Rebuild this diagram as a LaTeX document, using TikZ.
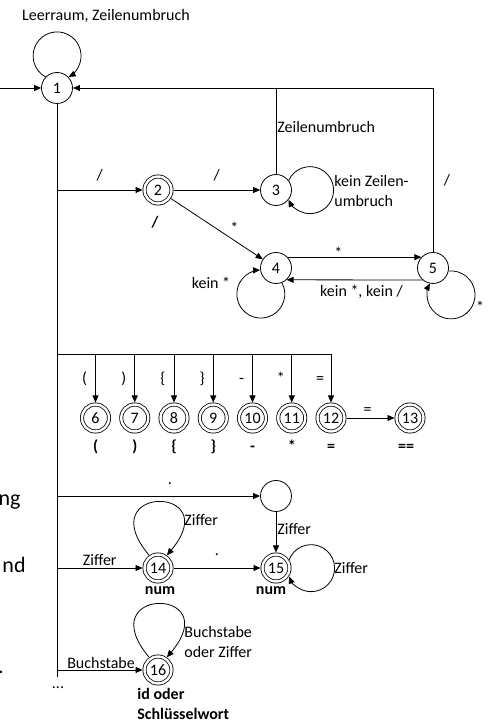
\documentclass[tikz,border=0pt]{standalone}
\usepackage{fontspec}
\setmainfont{Carlito}
\usetikzlibrary{arrows.meta}

\tikzset{
  state/.style={circle,draw,minimum size=31pt,inner sep=0pt},
  accept/.style={state,double,double distance=2.4pt,minimum size=27pt,outer sep=2pt},
  lbl/.style={inner sep=1pt},
  tok/.style={inner sep=1pt,font=\fontsize{16}{20}\selectfont\bfseries},
  frag/.style={inner sep=0pt,font=\fontsize{22}{26}\selectfont},
}

\begin{document}
\begin{tikzpicture}[x=1pt,y=1pt,line width=0.8pt,font=\fontsize{16}{20}\selectfont,
    >={Triangle[length=7pt,width=6pt]}]
  \useasboundingbox (0,0) rectangle (495,723);

  % states
  \node[state] (s1) at (57,635) {1};
  \node[accept] (s2) at (158,533) {2};
  \node[state] (s3) at (276,533) {3};
  \node[state] (s4) at (276,455) {4};
  \node[state] (s5) at (433,455) {5};
  \node[accept] (s13) at (410,305) {13};
  \node[state] (sp) at (276,227) {};
  \node[accept] (s14) at (158,155) {14};
  \node[accept] (s15) at (276,155) {15};
  \node[accept] (s16) at (158,53) {16};

  \coordinate (entry) at (0,635);
  \coordinate (bus) at (57,369);
  \coordinate (trunk) at (57,46);

  % start, white space
  \draw[->] (entry) -- (s1);
  \draw (s1) -- (trunk);
  \draw[->] (s1.136.5) arc[start angle=241.3,end angle=-61.3,radius=24];
  \node[lbl] (ws) at (106,707) {Leerraum, Zeilenumbruch};

  % comments
  \draw[->] (s1 |- s2) -- node[lbl,midway,yshift=15pt] {/} (s2);
  \node[tok] (t2) at (155,501) {/};
  \draw[->] (s2) -- node[lbl,midway,yshift=15pt] {/} (s3);
  \draw (s3) -- node[lbl,pos=0.55,anchor=west] {Zeilenumbruch} (s3 |- s1);
  \draw[->] (s3.37.7) arc[start angle=155.6,end angle=-155.6,radius=23.5];
  \node[lbl,anchor=west,align=left] (c3) at (333,531.5) {kein Zeilen-\\umbruch};
  \draw[->] (s2) -- node[lbl,pos=0.69,yshift=12.3pt] {*} (s4);
  \draw[->] (s4.43) -- node[lbl,pos=0.38,yshift=4.3pt] {*} (s5.137);
  \draw[->] (s5.-131.4) -- node[lbl,pos=0.45,yshift=-12pt] {kein *, kein /} (s4.-48.6);
  \draw[->] (s4.292.8) arc[start angle=28.2,end angle=-268.2,radius=24];
  \node[lbl] (c4) at (211,440) {kein *};
  \draw[->] (s5) |- node[lbl,pos=0.22,xshift=14pt] {/} (s1);
  \draw[->] (s5.-11.3) arc[start angle=95.8,end angle=-208.4,radius=24];
  \node[lbl] (c5) at (480,416.3) {*};

  % operators
  \foreach \n/\x/\tk in {6/95.5/{(},7/134.75/{)},8/174/{\{},9/213.25/{\}},10/252.5/{-},11/291.75/{*},12/331/{=}} {
    \node[accept] (s\n) at (\x,305) {\n};
    \draw[->] (s\n |- bus) -- (s\n);
    \node[lbl,anchor=base] (a\n) at (\x-11,339.5) {\tk};
    \node[tok,anchor=base] (b\n) at (\x,271.5) {\tk};
  }
  \draw (bus) -- (s12 |- bus);
  \draw[->] (s12) -- node[lbl,pos=0.44,yshift=6.5pt] {=} (s13);
  \node[tok,anchor=base] (b13) at (406,271.5) {==};

  % numbers
  \draw[->] (s1 |- sp) -- node[lbl,pos=0.556,yshift=12pt] {.} (sp);
  \draw[->] (sp) -- node[lbl,pos=0.42,anchor=west] {Ziffer} (s15);
  \draw[->] (s1 |- s14) -- node[lbl,midway,yshift=8pt] {Ziffer} (s14);
  \draw[->] (s14.125) .. controls +(130:92.7) and +(50:92.7) .. (s14.55);
  \node[lbl,anchor=west] (c14) at (183,203) {Ziffer};
  \draw[->] (s14) -- node[lbl,midway,yshift=13pt] {.} (s15);
  \draw[->] (s15.32.7) arc[start angle=159.1,end angle=-159.1,radius=23.5];
  \node[lbl,anchor=west] (c15) at (333,155) {Ziffer};
  \node[tok] (n14) at (160,132) {num};
  \node[tok] (n15) at (271,132) {num};

  % identifiers
  \draw[->] (s1 |- s16) -- node[lbl,pos=0.515,yshift=7pt] {Buchstabe} (s16);
  \draw[->] (s16.125) .. controls +(130:92.7) and +(50:92.7) .. (s16.55);
  \node[lbl,anchor=west,align=left] (c16) at (183,81) {Buchstabe\\oder Ziffer};
  \node[tok,anchor=west,align=left] (n16) at (136,19) {id oder\\Schlüsselwort};
  \node[lbl] (dots) at (58,35) {...};

  % cut-off text at the left edge
  \node[frag,anchor=base east] (f1) at (21,217.5) {ng};
  \node[frag,anchor=base east] (f2) at (26,150) {nd};
  \node[frag,anchor=base east] (f3) at (4.2,49) {.};
\end{tikzpicture}
\end{document}
